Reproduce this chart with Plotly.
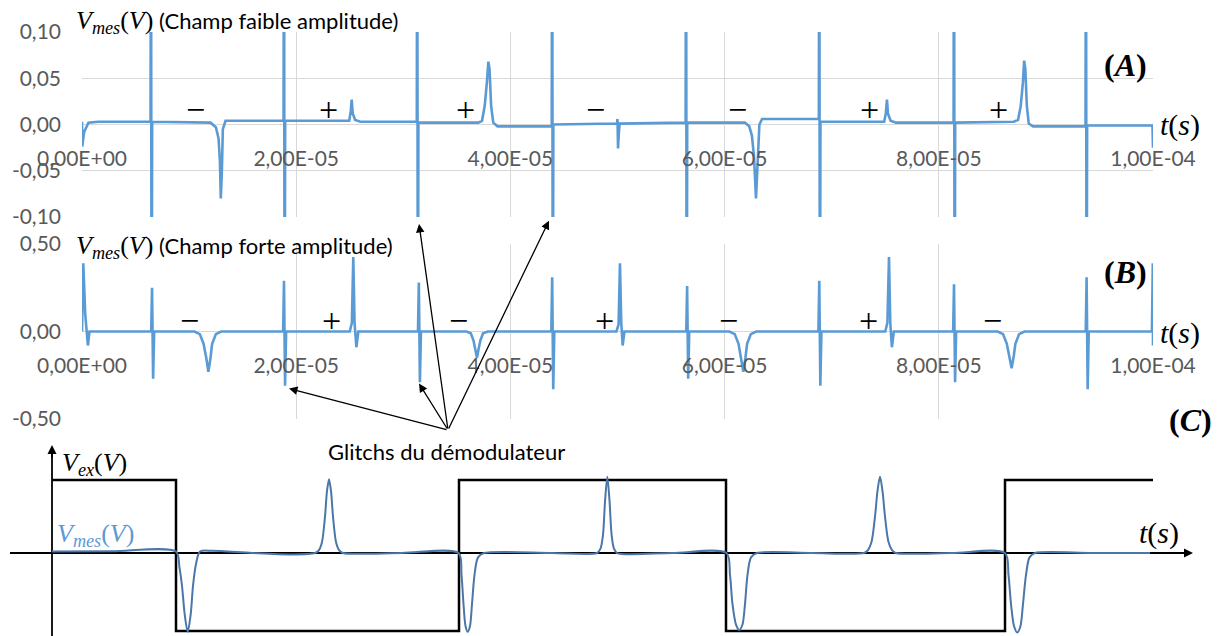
import plotly.graph_objects as go

W, H = 1217, 636

# ---------------- data ----------------
tick_vals_t = [0, 2e-5, 4e-5, 6e-5, 8e-5, 1e-4]
tick_text_t = ["0,00E+00", "2,00E-05", "4,00E-05", "6,00E-05", "8,00E-05", "1,00E-04"]
tick_vals_A = [-0.10, -0.05, 0.0, 0.05, 0.10]
tick_text_A = ["-0,10", "-0,05", "0,00", "0,05", "0,10"]
tick_vals_B = [-0.5, 0.0, 0.5]
tick_text_B = ["-0,50", "0,00", "0,50"]

# Panel A : weak field, time in microseconds, V_mes in volts
t_A_us = [0.00, 0.02, 0.2, 0.6, 1.5,
          6.40, 6.44, 6.50, 6.55,
          12.0, 12.5, 12.75, 12.88, 12.96, 13.06, 13.15, 13.4,
          18.82, 18.86, 18.92, 18.97,
          24.95, 25.1, 25.18, 25.28, 25.5, 26.0,
          31.26, 31.30, 31.36, 31.41,
          37.0, 37.35, 37.6, 37.8, 37.94, 38.05, 38.2, 38.4, 38.8,
          43.86, 43.90, 43.96, 44.01,
          49.95, 50.0, 50.05, 50.12, 50.2,
          56.36, 56.40, 56.46, 56.51,
          61.9, 62.3, 62.55, 62.75, 62.93, 63.1, 63.25, 63.5,
          68.80, 68.84, 68.90, 68.95,
          74.9, 75.05, 75.16, 75.25, 75.5, 76.0,
          81.38, 81.42, 81.48, 81.53,
          87.0, 87.4, 87.65, 87.85, 87.97, 88.08, 88.22, 88.4, 88.8,
          93.70, 93.74, 93.80, 93.85,
          99.95, 100.0]
v_A = [0.003, -0.024, -0.008, 0.002, 0.003,
       0.003, 0.30, -0.30, 0.003,
       0.002, -0.003, -0.015, -0.04, -0.08, -0.05, -0.005, 0.004,
       0.004, 0.30, -0.30, 0.004,
       0.004, 0.015, 0.027, 0.012, 0.005, 0.003,
       0.003, 0.30, -0.30, 0.002,
       0.002, 0.004, 0.02, 0.045, 0.068, 0.06, 0.02, 0.002, -0.002,
       -0.002, 0.30, -0.30, 0.0,
       0.001, 0.006, -0.026, -0.01, 0.001,
       0.002, 0.30, -0.30, 0.002,
       0.002, -0.002, -0.012, -0.035, -0.08, -0.04, 0.0, 0.006,
       0.006, 0.30, -0.30, 0.003,
       0.003, 0.012, 0.027, 0.012, 0.004, 0.002,
       0.002, 0.30, -0.30, 0.002,
       0.003, 0.005, 0.02, 0.045, 0.069, 0.06, 0.02, 0.001, -0.002,
       -0.002, 0.30, -0.30, -0.001,
       -0.001, -0.025]

# Panel B : strong field
t_B_us = [0.0, 0.12, 0.3, 0.42, 0.55, 0.7,
          6.46, 6.54, 6.64, 6.74,
          10.5, 11.0, 11.35, 11.6, 11.8, 12.0, 12.15, 12.5, 13.0,
          18.78, 18.86, 18.96, 19.06,
          25.0, 25.2, 25.33, 25.45, 25.62, 25.8,
          31.37, 31.45, 31.55, 31.65,
          35.9, 36.3, 36.55, 36.72, 36.88, 37.03, 37.2, 37.45, 37.9,
          43.82, 43.90, 44.0, 44.1,
          49.9, 50.1, 50.23, 50.35, 50.48, 50.65,
          56.42, 56.50, 56.60, 56.70,
          60.45, 60.95, 61.3, 61.55, 61.75, 61.95, 62.1, 62.45, 62.95,
          68.76, 68.84, 68.94, 69.04,
          75.0, 75.2, 75.35, 75.47, 75.62, 75.8,
          81.34, 81.42, 81.52, 81.62,
          85.5, 86.0, 86.35, 86.6, 86.8, 87.0, 87.15, 87.5, 88.0,
          93.72, 93.80, 93.90, 94.0,
          99.9, 99.98, 100.0]
v_B = [0.0, 0.39, 0.10, 0.0, -0.08, 0.0,
       0.0, 0.25, -0.27, 0.0,
       0.0, -0.015, -0.07, -0.15, -0.23, -0.15, -0.07, -0.015, 0.0,
       0.0, 0.29, -0.31, 0.0,
       0.0, 0.05, 0.425, 0.05, -0.09, 0.0,
       0.0, 0.28, -0.29, 0.0,
       0.0, -0.01, -0.05, -0.1, -0.15, -0.1, -0.05, -0.01, 0.0,
       0.0, 0.31, -0.33, 0.0,
       0.0, 0.04, 0.39, 0.05, -0.08, 0.0,
       0.0, 0.26, -0.27, 0.0,
       0.0, -0.015, -0.07, -0.15, -0.23, -0.15, -0.07, -0.015, 0.0,
       0.0, 0.29, -0.31, 0.0,
       0.0, 0.05, 0.425, 0.05, -0.09, 0.0,
       0.0, 0.27, -0.29, 0.0,
       0.0, -0.015, -0.07, -0.14, -0.21, -0.14, -0.07, -0.015, 0.0,
       0.0, 0.31, -0.33, 0.0,
       0.0, 0.39, -0.08]

sign_t_A_us = [10.64, 23.06, 35.85, 47.99, 61.16, 73.57, 85.53]
sign_A = ["−", "+", "+", "−", "−", "+", "+"]
sign_t_B_us = [10.08, 23.34, 35.2, 48.83, 60.32, 73.48, 84.97]
sign_B = ["−", "+", "−", "+", "−", "+", "−"]

# Panel C : schematic (arbitrary units)
t_ex = [0, 12.4, 12.4, 40.7, 40.7, 67.4, 67.4, 95.3, 95.3, 110.1]
v_ex = [1, 1, -1.07, -1.07, 1, 1, -1.07, -1.07, 1, 1]

t_mes_C = [0, 6, 12.4,
           12.75, 13.0, 13.27, 13.57, 13.87, 14.1, 14.4, 14.8,
           16, 20, 24, 26.3,
           26.7, 27.0, 27.3, 27.5, 27.7, 27.9, 28.1, 28.4, 28.7, 29.1,
           35, 40.65,
           40.95, 41.15, 41.35, 41.57, 41.8, 42.0, 42.25, 42.6, 43.2,
           50, 54.5,
           54.85, 55.1, 55.3, 55.53, 55.76, 55.96, 56.2, 56.5,
           62, 67.45,
           67.8, 68.05, 68.4, 68.73, 69.05, 69.3, 69.55, 69.9, 70.5,
           76, 81.2,
           81.6, 81.95, 82.3, 82.55, 82.8, 83.05, 83.3, 83.65, 84.0, 84.4,
           90, 95.3,
           95.65, 95.9, 96.2, 96.53, 96.85, 97.1, 97.4, 97.75, 98.3,
           104, 109.8]
v_mes_C = [0.02, 0.025, 0.02,
           -0.2, -0.45, -0.84, -1.08, -0.84, -0.45, -0.15, 0.02,
           0.03, 0.0, -0.02, 0.0,
           0.04, 0.15, 0.5, 0.85, 1.01, 0.85, 0.5, 0.15, 0.04, 0.0,
           0.0, 0.0,
           -0.3, -0.7, -1.0, -1.08, -1.0, -0.7, -0.3, -0.06, 0.0,
           0.0, 0.0,
           0.06, 0.25, 0.7, 1.045, 0.7, 0.25, 0.06, 0.0,
           0.0, 0.0,
           -0.3, -0.7, -0.98, -1.055, -0.98, -0.7, -0.3, -0.06, 0.0,
           0.0, 0.0,
           0.04, 0.15, 0.5, 0.85, 1.045, 0.85, 0.5, 0.15, 0.04, 0.0,
           0.0, 0.0,
           -0.3, -0.7, -1.0, -1.09, -1.0, -0.7, -0.3, -0.06, 0.0,
           0.0, 0.0]

# arrow targets (glitches): (panel, time us, value)
glitch_targets = [("A", 31.47, -0.1076), ("A", 43.6, -0.104),
                  ("B", 31.47, -0.297), ("B", 19.33, -0.326)]

# ---------------- layout geometry ----------------
XD = [82 / W, 1153 / W]
YA = [1 - 217 / H, 1 - 32 / H]
YB = [1 - 419 / H, 1 - 244 / H]
YC = [0, 1 - 439 / H]
zeroA = (YA[0] + YA[1]) / 2
zeroB = (YB[0] + YB[1]) / 2

BLUE = "#5B9BD5"
GRID = "#d9d9d9"
TICK = "#595959"
SANS = "Lato"
SERIF = "Liberation Serif"

fig = go.Figure()
fig.add_trace(go.Scatter(x=[t * 1e-6 for t in t_A_us], y=v_A, mode="lines",
                         line=dict(color=BLUE, width=2.6), xaxis="x", yaxis="y",
                         showlegend=False, hoverinfo="skip"))
fig.add_trace(go.Scatter(x=[t * 1e-6 for t in t_B_us], y=v_B, mode="lines",
                         line=dict(color=BLUE, width=2.6), xaxis="x2", yaxis="y2",
                         showlegend=False, hoverinfo="skip"))
fig.add_trace(go.Scatter(x=t_ex, y=v_ex, mode="lines",
                         line=dict(color="black", width=2.5), xaxis="x3", yaxis="y3",
                         showlegend=False, hoverinfo="skip"))
fig.add_trace(go.Scatter(x=t_mes_C, y=v_mes_C, mode="lines",
                         line=dict(color="#4a76a8", width=2, shape="spline", smoothing=0.8),
                         xaxis="x3", yaxis="y3", showlegend=False, hoverinfo="skip"))

xcommon = dict(domain=XD, range=[0, 1e-4], tickvals=tick_vals_t, ticktext=tick_text_t,
               showgrid=True, gridcolor=GRID, gridwidth=1, zeroline=False, showline=False,
               ticks="", tickfont=dict(family=SANS, size=21, color=TICK),
               anchor="free", ticklabelstandoff=19, automargin=False)
ycommon = dict(showgrid=True, gridcolor=GRID, gridwidth=1, zeroline=False, showline=False,
               ticks="", tickfont=dict(family=SANS, size=21, color=TICK), ticklabelstandoff=20,
               automargin=False)

fig.update_layout(
    width=W, height=H, autosize=False,
    margin=dict(l=0, r=0, t=0, b=0, pad=0),
    paper_bgcolor="white", plot_bgcolor="white",
    separators=", ",
    xaxis=dict(**xcommon, position=zeroA),
    yaxis=dict(**ycommon, domain=YA, range=[-0.1, 0.1], tickvals=tick_vals_A,
               ticktext=tick_text_A, anchor="x"),
    xaxis2=dict(**xcommon, position=zeroB),
    yaxis2=dict(**ycommon, domain=YB, range=[-0.5, 0.5], tickvals=tick_vals_B,
                ticktext=tick_text_B, anchor="x2"),
    xaxis3=dict(domain=[0, 1], range=[-5.2, 116.5], visible=False, anchor="y3", automargin=False),
    yaxis3=dict(domain=YC, range=[-1.137, 1.562], visible=False, anchor="x3", automargin=False),
)

# schematic axes (C)
fig.add_shape(type="line", xref="x3", yref="y3", x0=-4.2, x1=113, y0=0, y1=0,
              line=dict(color="black", width=1.8), layer="below")
fig.add_shape(type="line", xref="x3", yref="y3", x0=0, x1=0, y0=-1.2, y1=1.40,
              line=dict(color="black", width=1.8), layer="below")
fig.add_annotation(x=114.1, y=0, xref="x3", yref="y3", ax=-14, ay=0, text="",
                   showarrow=True, arrowhead=2, arrowsize=1, arrowwidth=1.8, arrowcolor="black")
fig.add_annotation(x=0, y=1.479, xref="x3", yref="y3", ax=0, ay=14, text="",
                   showarrow=True, arrowhead=2, arrowsize=1, arrowwidth=1.8, arrowcolor="black")

VMES = "<i>V</i><sub><i>mes</i></sub>(<i>V</i>)"

# titles
for yy, txt in [(22, " (Champ faible amplitude)"), (247, " (Champ forte amplitude)")]:
    fig.add_annotation(x=74 / W, y=1 - yy / H, xref="paper", yref="paper", xanchor="left",
                       yanchor="middle",
                       text="<span style='font-family:Liberation Serif;font-size:26px'>" + VMES +
                            "</span>" + txt,
                       showarrow=False, font=dict(family=SANS, size=22, color="black"))

# t(s) labels
for xx, yy in [(1158, 125), (1158, 333), (1137, 533)]:
    fig.add_annotation(x=xx / W, y=1 - yy / H, xref="paper", yref="paper", xanchor="left",
                       yanchor="middle", text="<i>t</i>(<i>s</i>)", showarrow=False,
                       font=dict(family=SERIF, size=30, color="black"))

# panel letters
for letter, xx, yy in [("A", 1102, 65), ("B", 1102, 272), ("C", 1167, 420)]:
    fig.add_annotation(x=xx / W, y=1 - yy / H, xref="paper", yref="paper", xanchor="left",
                       yanchor="middle", text="<b>(<i>" + letter + "</i>)</b>", showarrow=False,
                       font=dict(family=SERIF, size=32, color="black"))

# +/- signs
for t, s in zip(sign_t_A_us, sign_A):
    fig.add_annotation(x=t * 1e-6, y=0.0157, xref="x", yref="y", text=s, showarrow=False,
                       font=dict(family=SERIF, size=34, color="black"))
for t, s in zip(sign_t_B_us, sign_B):
    fig.add_annotation(x=t * 1e-6, y=0.063, xref="x2", yref="y2", text=s, showarrow=False,
                       font=dict(family=SERIF, size=34, color="black"))

# schematic labels
fig.add_annotation(x=60 / W, y=1 - 464 / H, xref="paper", yref="paper", xanchor="left",
                   yanchor="middle", text="<i>V</i><sub><i>ex</i></sub>(<i>V</i>)", showarrow=False,
                   font=dict(family=SERIF, size=26, color="black"))
fig.add_annotation(x=55 / W, y=1 - 535 / H, xref="paper", yref="paper", xanchor="left",
                   yanchor="middle", text=VMES, showarrow=False,
                   font=dict(family=SERIF, size=26, color=BLUE))

# Glitch label and arrows
fig.add_annotation(x=326 / W, y=1 - 452 / H, xref="paper", yref="paper", xanchor="left",
                   yanchor="middle", text="Glitchs du démodulateur", showarrow=False,
                   font=dict(family=SANS, size=22, color="black"))

tail_px = (448, 430)
for panel, t_us, v in glitch_targets:
    xp = XD[0] + (t_us * 1e-6 / 1e-4) * (XD[1] - XD[0])
    if panel == "A":
        yp = YA[0] + (v + 0.1) / 0.2 * (YA[1] - YA[0])
    else:
        yp = YB[0] + (v + 0.5) / 1.0 * (YB[1] - YB[0])
    hx, hy = xp * W, (1 - yp) * H
    fig.add_annotation(x=xp, y=yp, xref="paper", yref="paper", text="",
                       ax=tail_px[0] - hx, ay=tail_px[1] - hy, axref="pixel", ayref="pixel",
                       showarrow=True, arrowhead=2, arrowsize=1.3, arrowwidth=1.3,
                       arrowcolor="black")

fig.write_html("out.html", config={"displayModeBar": False},
               post_script="document.body.style.margin='0';document.body.style.overflow='hidden';")
